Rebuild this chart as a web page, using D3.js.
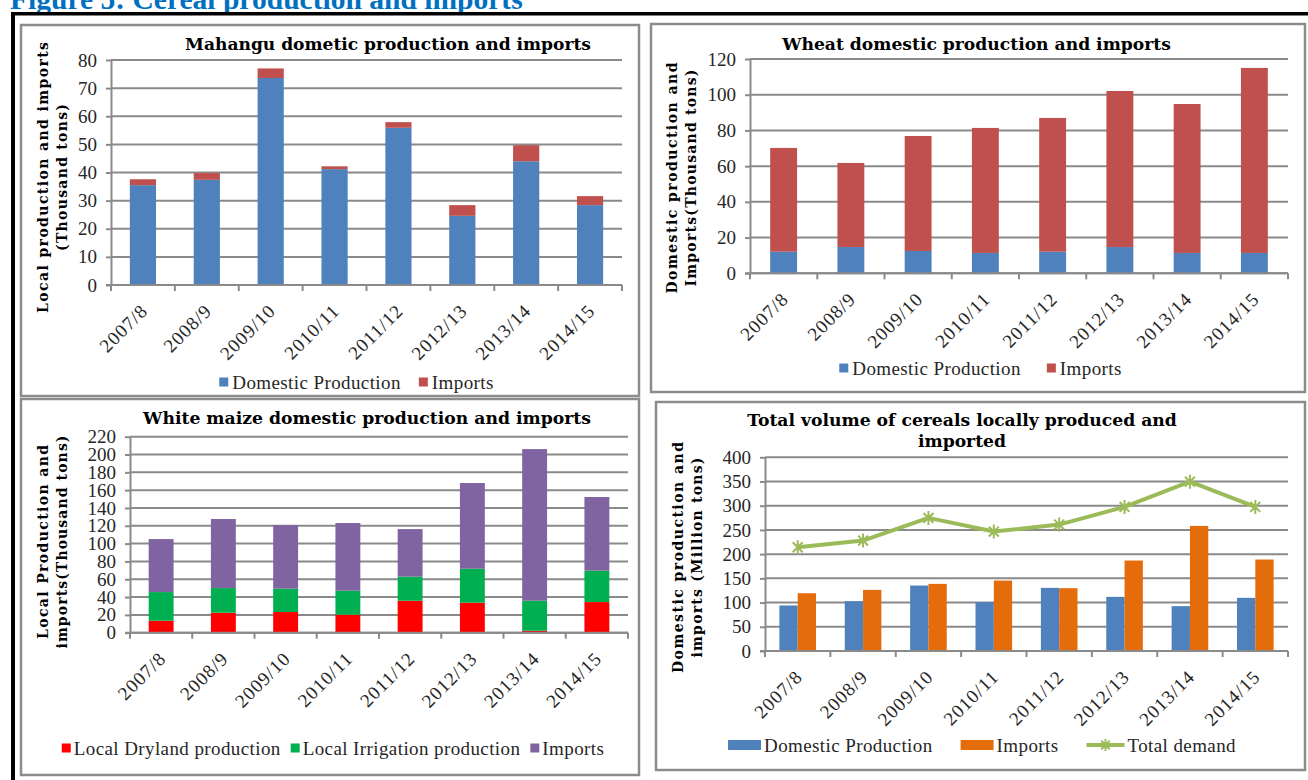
<!DOCTYPE html>
<html>
<head>
<meta charset="utf-8">
<script src="https://cdn.jsdelivr.net/npm/d3@7"></script>
<style>
  html, body { margin: 0; padding: 0; background: #fff; }
  svg { display: block; }
</style>
</head>
<body>
<svg id="fig" width="1308" height="780"></svg>
<script>
// ---- data (thousand tons, million tons for the cereal totals) ----
const seasons = ["2007/8", "2008/9", "2009/10", "2010/11", "2011/12", "2012/13", "2013/14", "2014/15"];

const mahanguDomestic = [35.5, 37.4, 73.6, 41.2, 55.9, 24.6, 44.0, 28.4];
const mahanguImports  = [2.1, 2.4, 3.4, 1.0, 2.0, 3.8, 5.7, 3.2];
const mahanguTicks    = [0, 10, 20, 30, 40, 50, 60, 70, 80];

const wheatDomestic = [12.1, 14.7, 12.5, 11.4, 12.1, 14.7, 11.4, 11.4];
const wheatImports  = [58.1, 47.1, 64.4, 70.0, 74.9, 87.4, 83.4, 103.6];
const wheatTicks    = [0, 20, 40, 60, 80, 100, 120];

const maizeDryland    = [13.5, 22.4, 23.2, 20.2, 35.9, 33.7, 2.2, 34.4];
const maizeIrrigation = [32.1, 27.7, 26.2, 26.9, 27.0, 38.1, 33.7, 35.2];
const maizeImports    = [59.5, 77.5, 71.4, 76.0, 53.4, 96.2, 170.2, 82.7];
const maizeTicks      = [0, 20, 40, 60, 80, 100, 120, 140, 160, 180, 200, 220];

const cerealDomestic = [94.0, 102.9, 135.2, 100.8, 130.4, 111.8, 92.6, 109.8];
const cerealImports  = [119.3, 126.2, 138.6, 145.5, 129.7, 186.8, 258.3, 188.9];
const totalDemand    = [214.3, 228.1, 274.9, 246.7, 261.1, 297.5, 349.7, 297.5];
const cerealTicks    = [0, 50, 100, 150, 200, 250, 300, 350, 400];

// ---- styling ----
const SERIF = "'Liberation Serif', 'Times New Roman', serif";
const BOLD = "'DejaVu Serif', serif";
const GRID = "#8a8a8a";
const TXT = "#262626";
const C = {
  blue: "#4F81BD", red: "#C0504D", brightRed: "#FF0000",
  green: "#00B050", purple: "#8064A2", orange: "#E46C0A", lime: "#9BBB59"
};

const svg = d3.select("#fig");
svg.append("rect").attr("width", 1308).attr("height", 780).attr("fill", "#fff");

// scale a text's font size so that it spans a given width
function fitWidth(sel, target) {
  const w = sel.node().getComputedTextLength();
  const fs = parseFloat(sel.attr("font-size"));
  sel.attr("font-size", fs * target / w);
  return fs * target / w;
}

// figure caption and outer frame
const caption = svg.append("text")
  .attr("x", 10).attr("y", 9)
  .attr("font-family", SERIF).attr("font-weight", "bold")
  .attr("font-size", 24).attr("fill", "#0070C0")
  .text("Figure 5: Cereal production and imports");
fitWidth(caption, 513);

svg.append("line").attr("x1", 11).attr("x2", 1308).attr("y1", 13.8).attr("y2", 13.8)
  .attr("stroke", "#000").attr("stroke-width", 3.5);
svg.append("line").attr("x1", 13).attr("x2", 13).attr("y1", 12).attr("y2", 780)
  .attr("stroke", "#000").attr("stroke-width", 4);

function drawPanel(o) {
  const g = svg.append("g");

  g.append("rect")
    .attr("x", o.box[0]).attr("y", o.box[1])
    .attr("width", o.box[2] - o.box[0]).attr("height", o.box[3] - o.box[1])
    .attr("fill", "#fff").attr("stroke", "#8c8c8c").attr("stroke-width", 2.5);

  const x = d3.scaleBand().domain(seasons)
    .range([o.left, o.right]).paddingInner(o.pad).paddingOuter(o.pad / 2);
  const y = d3.scaleLinear().domain([0, d3.max(o.ticks)]).range([o.bottom, o.top]);

  // horizontal gridlines
  g.append("g").selectAll("line").data(o.ticks).join("line")
    .attr("x1", o.left).attr("x2", o.right)
    .attr("y1", d => y(d)).attr("y2", d => y(d))
    .attr("stroke", GRID).attr("stroke-width", 2);

  // y axis: labels and outward tick marks
  const ya = g.append("g").attr("transform", `translate(${o.left},0)`)
    .call(d3.axisLeft(y).tickValues(o.ticks).tickSizeInner(5).tickSizeOuter(0).tickPadding(9));
  ya.select(".domain").attr("stroke", GRID).attr("stroke-width", 2);
  ya.selectAll(".tick line").attr("stroke", GRID).attr("stroke-width", 2);
  ya.selectAll(".tick text").attr("font-family", SERIF).attr("font-size", 19).attr("fill", TXT);

  // bars
  if (o.mode === "stack") {
    const rows = seasons.map((s, i) => {
      const r = { season: s };
      o.series.forEach(se => { r[se.key] = se.values[i]; });
      return r;
    });
    const stacked = d3.stack().keys(o.series.map(s => s.key))(rows);
    g.append("g").selectAll("g").data(stacked).join("g")
      .attr("fill", (d, i) => o.series[i].color)
      .selectAll("rect").data(d => d).join("rect")
      .attr("x", d => x(d.data.season))
      .attr("width", x.bandwidth())
      .attr("y", d => y(d[1]))
      .attr("height", d => y(d[0]) - y(d[1]));
  } else {
    const inner = d3.scaleBand().domain(o.series.map(s => s.key)).range([0, x.bandwidth()]);
    o.series.forEach(se => {
      g.append("g").attr("fill", se.color).selectAll("rect").data(se.values).join("rect")
        .attr("x", (d, i) => x(seasons[i]) + inner(se.key))
        .attr("width", inner.bandwidth())
        .attr("y", d => y(d))
        .attr("height", d => y(0) - y(d));
    });
  }

  // line series with asterisk markers
  if (o.line) {
    const cx = (d, i) => x(seasons[i]) + x.bandwidth() / 2;
    const lineGen = d3.line().x(cx).y(d => y(d));
    g.append("path").datum(o.line.values)
      .attr("d", lineGen).attr("fill", "none")
      .attr("stroke", o.line.color).attr("stroke-width", 4).attr("stroke-linejoin", "round");
    const m = g.append("g").selectAll("g").data(o.line.values).join("g")
      .attr("transform", (d, i) => `translate(${cx(d, i)},${y(d)})`);
    asterisk(m, o.line.color, 7);
  }

  // x axis line and boundary tick marks
  const step = x.step();
  const bounds = d3.range(seasons.length + 1).map(i => o.left + i * step);
  g.append("line").attr("x1", o.left - 5).attr("x2", o.right)
    .attr("y1", y(0)).attr("y2", y(0)).attr("stroke", GRID).attr("stroke-width", 2);
  g.append("g").selectAll("line").data(bounds).join("line")
    .attr("x1", d => d).attr("x2", d => d)
    .attr("y1", y(0)).attr("y2", y(0) + 6)
    .attr("stroke", GRID).attr("stroke-width", 2);

  // rotated category labels
  g.append("g").selectAll("text").data(seasons).join("text")
    .attr("transform", d => `translate(${x(d) + x.bandwidth() / 2 + 6},${y(0) + 27}) rotate(-45)`)
    .attr("text-anchor", "end")
    .attr("font-family", SERIF).attr("font-size", 19).attr("letter-spacing", 1)
    .attr("fill", TXT).text(d => d);

  // chart title
  let fs = null;
  o.title.lines.forEach((t, i) => {
    const tt = g.append("text")
      .attr("x", o.title.cx).attr("y", o.title.baselines[i])
      .attr("text-anchor", "middle")
      .attr("font-family", BOLD).attr("font-weight", "bold")
      .attr("font-size", fs || 16).attr("fill", "#000").text(t);
    if (i === 0) fs = fitWidth(tt, o.title.width);
  });

  // y axis title (two justified lines)
  o.yTitle.lines.forEach((t, i) => {
    g.append("text")
      .attr("transform", `translate(${o.yTitle.xs[i]},${o.yTitle.cy}) rotate(-90)`)
      .attr("text-anchor", "middle")
      .attr("font-family", BOLD).attr("font-weight", "bold").attr("font-size", 14)
      .attr("textLength", o.yTitle.lengths[i]).attr("lengthAdjust", "spacing")
      .attr("fill", "#000").text(t);
  });

  // legend
  const lg = g.append("g");
  let cursor = 0;
  const items = o.legend.items;
  items.forEach((it, i) => {
    const ig = lg.append("g").attr("transform", `translate(${cursor},0)`);
    let kw;
    if (it.kind === "square") {
      kw = 9;
      ig.append("rect").attr("x", 0).attr("y", -4.5).attr("width", 9).attr("height", 9).attr("fill", it.color);
    } else if (it.kind === "wide") {
      kw = 33;
      ig.append("rect").attr("x", 0).attr("y", -5).attr("width", 33).attr("height", 10).attr("fill", it.color);
    } else {
      kw = 38;
      ig.append("line").attr("x1", 0).attr("x2", 38).attr("y1", 0).attr("y2", 0)
        .attr("stroke", it.color).attr("stroke-width", 4);
      asterisk(ig.append("g").attr("transform", "translate(19,0)"), it.color, 6);
    }
    const t = ig.append("text").attr("x", kw + o.legend.keyGap).attr("y", 6.5)
      .attr("font-family", SERIF).attr("font-size", 19).attr("letter-spacing", 0.4)
      .attr("fill", TXT).text(it.label);
    cursor += kw + o.legend.keyGap + t.node().getComputedTextLength() + (i < items.length - 1 ? o.legend.gap : 0);
  });
  lg.attr("transform", `translate(${o.legend.cx - cursor / 2},${o.legend.cy})`);
}

function asterisk(sel, color, r) {
  const d = r * Math.SQRT1_2;
  const path = `M${-d},${-d}L${d},${d}M${-d},${d}L${d},${-d}M0,${-r}L0,${r}`;
  sel.append("path").attr("d", path).attr("stroke", color).attr("stroke-width", 2).attr("fill", "none");
}

drawPanel({
  box: [21, 25, 639, 396], left: 111, right: 622, top: 60, bottom: 285, pad: 0.59,
  ticks: mahanguTicks, mode: "stack",
  series: [
    { key: "dom", values: mahanguDomestic, color: C.blue },
    { key: "imp", values: mahanguImports, color: C.red }
  ],
  title: { lines: ["Mahangu dometic production and imports"], cx: 388, baselines: [50], width: 406 },
  yTitle: { lines: ["Local production and imports", "(Thousand tons)"], xs: [48, 67], cy: 177.5, lengths: [271, 147] },
  legend: {
    cx: 356.5, cy: 382, gap: 18, keyGap: 4,
    items: [
      { label: "Domestic Production", color: C.blue, kind: "square" },
      { label: "Imports", color: C.red, kind: "square" }
    ]
  }
});

drawPanel({
  box: [651, 24, 1305, 392], left: 750, right: 1288, top: 59, bottom: 273.3, pad: 0.6,
  ticks: wheatTicks, mode: "stack",
  series: [
    { key: "dom", values: wheatDomestic, color: C.blue },
    { key: "imp", values: wheatImports, color: C.red }
  ],
  title: { lines: ["Wheat domestic production and imports"], cx: 976.5, baselines: [50], width: 389 },
  yTitle: { lines: ["Domestic production and", "Imports(Thousand tons)"], xs: [677, 696], cy: 178, lengths: [231, 217] },
  legend: {
    cx: 980.5, cy: 368, gap: 26, keyGap: 4,
    items: [
      { label: "Domestic Production", color: C.blue, kind: "square" },
      { label: "Imports", color: C.red, kind: "square" }
    ]
  }
});

drawPanel({
  box: [21, 399, 639, 775], left: 130, right: 628, top: 436.7, bottom: 632.7, pad: 0.6,
  ticks: maizeTicks, mode: "stack",
  series: [
    { key: "dry", values: maizeDryland, color: C.brightRed },
    { key: "irr", values: maizeIrrigation, color: C.green },
    { key: "imp", values: maizeImports, color: C.purple }
  ],
  title: { lines: ["White maize domestic production and imports"], cx: 367, baselines: [424], width: 448 },
  yTitle: { lines: ["Local Production and", "imports(Thousand tons)"], xs: [48, 67], cy: 542, lengths: [194, 213] },
  legend: {
    cx: 333, cy: 748, gap: 10, keyGap: 3,
    items: [
      { label: "Local Dryland production", color: C.brightRed, kind: "square" },
      { label: "Local Irrigation production", color: C.green, kind: "square" },
      { label: "Imports", color: C.purple, kind: "square" }
    ]
  }
});

drawPanel({
  box: [656, 402, 1305, 770], left: 765, right: 1288, top: 457.3, bottom: 651, pad: 0.44,
  ticks: cerealTicks, mode: "group",
  series: [
    { key: "dom", values: cerealDomestic, color: C.blue },
    { key: "imp", values: cerealImports, color: C.orange }
  ],
  line: { values: totalDemand, color: C.lime },
  title: { lines: ["Total volume of cereals locally produced and", "imported"], cx: 962, baselines: [426, 447], width: 430 },
  yTitle: { lines: ["Domestic production and", "imports (Million tons)"], xs: [683, 702], cy: 557.5, lengths: [231, 200] },
  legend: {
    cx: 982, cy: 745, gap: 28, keyGap: 3,
    items: [
      { label: "Domestic Production", color: C.blue, kind: "wide" },
      { label: "Imports", color: C.orange, kind: "wide" },
      { label: "Total demand", color: C.lime, kind: "line" }
    ]
  }
});
</script>
</body>
</html>
